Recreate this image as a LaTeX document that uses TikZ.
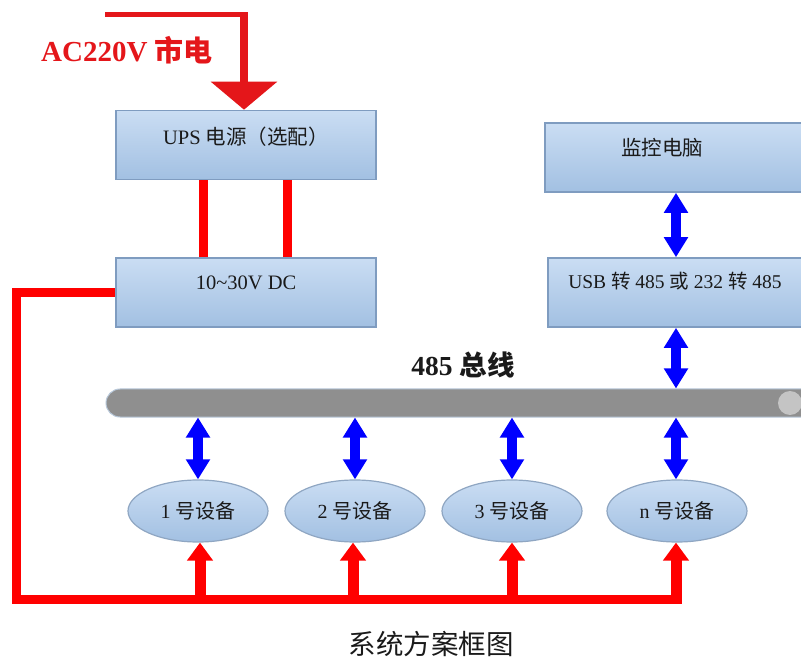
\documentclass[tikz,border=0pt]{standalone}
\usepackage{fontspec}
\setmainfont{Liberation Serif}
\newfontfamily\cjk{Noto Sans CJK SC}
\usetikzlibrary{arrows.meta,shapes.geometric}
\definecolor{boxtop}{HTML}{CADDF3}
\definecolor{boxbot}{HTML}{A2C0E2}
\definecolor{boxline}{HTML}{7F9CC0}
\definecolor{ellline}{HTML}{8FA6C2}
\definecolor{busgray}{HTML}{8F8F8F}
\definecolor{busline}{HTML}{B8C8DA}
\definecolor{capgray}{HTML}{C4C4C4}
\definecolor{pwred}{HTML}{FF0000}
\definecolor{acred}{HTML}{E4161A}
\definecolor{dblue}{HTML}{0000FF}
\definecolor{txt}{HTML}{1A1A1A}
\newcommand{\zh}[1]{{\cjk #1}}
\newcommand{\fs}[1]{\fontsize{#1}{#1}\selectfont}
\begin{document}
\begin{tikzpicture}[x=1pt,y=-1pt,
  box/.style={rectangle, draw=boxline, line width=1.6pt, top color=boxtop, bottom color=boxbot, minimum height=69pt, inner sep=0pt},
  boxtext/.style={text=txt, font=\fs{20.5}, inner sep=0pt},
  dev/.style={ellipse, draw=ellline, line width=1.2pt, top color=boxtop, bottom color=boxbot, minimum width=140pt, minimum height=62pt, inner sep=0pt, text=txt, font=\fs{20}},
  redline/.style={draw=pwred, line width=9pt, line join=miter},
  redarrow/.style={draw=pwred, line width=11pt, -{Triangle[width=25pt,length=18pt]}},
  bluearrow/.style={draw=dblue, line width=10pt, {Triangle[width=23pt,length=20pt]}-{Triangle[width=23pt,length=20pt]}},
  busbar/.style={rectangle, rounded corners=14pt, draw=busline, line width=1pt, fill=busgray, minimum height=28pt, inner sep=0pt}
]
\useasboundingbox (0,0) rectangle (801,660);
\clip (0,0) rectangle (801,660);

% boxes
\node[box, minimum width=260pt] (ups) at (246,145) {};
\node[boxtext] (upst) at ([yshift=8pt]ups.center) {UPS \zh{电源（选配）}};
\node[box, minimum width=260pt] (dc) at (246,292.5) {};
\node[boxtext] (dct) at ([yshift=9.5pt]dc.center) {10\textasciitilde30V DC};
\node[box, minimum width=280pt] (pc) at (685,157.5) {};
\node[boxtext] (pct) at (662,148) {\zh{监控电脑}};
\node[box, minimum width=280pt] (usb) at (688,292.5) {};
\node[boxtext, font=\fs{19.5}] (usbt) at (675,281) {USB \zh{转} 485 \zh{或} 232 \zh{转} 485};

% bus
\node[busbar, minimum width=710pt] (bus) at (461,403) {};
\node[ellipse, fill=capgray, minimum width=24pt, minimum height=24pt, inner sep=0pt] (buscap) at (790,403) {};
\node[text=txt, font=\fs{27.5}\bfseries, inner sep=0pt] (buslbl) at (463,365) {485 \zh{总线}};

% devices
\node[dev] (e1) at (198,511) {1 \zh{号设备}};
\node[dev] (e2) at (355,511) {2 \zh{号设备}};
\node[dev] (e3) at (512,511) {3 \zh{号设备}};
\node[dev] (e4) at (677,511) {n \zh{号设备}};

% AC input
\node[text=acred, font=\fs{29}\bfseries, inner sep=0pt] (aclbl) at (127,50) {AC220V \zh{市电}};
\coordinate (acstart) at (105,15);
\coordinate (accorner) at (248,15);
\draw[draw=acred, line width=5pt] (acstart) -- (accorner);
\draw[draw=acred, line width=8pt, -{Triangle[width=65pt,length=28pt]}] ([xshift=-4pt,yshift=2.5pt]accorner) -- ([xshift=-2pt]ups.north);

% UPS to DC
\draw[redline] ([xshift=-43pt]ups.south) -- ([xshift=-43pt]dc.north);
\draw[redline] ([xshift=41pt]ups.south) -- ([xshift=41pt]dc.north);

% power loop
\coordinate (lc) at (16,599);
\draw[redline] (dc.west) -| (lc) -- ([xshift=4pt]e4.south |- lc);
\draw[redarrow] ([xshift=-1pt]e4.south |- 0,603.5) -- ([xshift=-1pt]e4.south);
\draw[redarrow] ([xshift=2pt]e1.south |- lc) -- ([xshift=2pt]e1.south);
\draw[redarrow] ([xshift=-2pt]e2.south |- lc) -- ([xshift=-2pt]e2.south);
\draw[redarrow] (e3.south |- lc) -- (e3.south);

% data links
\coordinate (bx) at (676,0);
\draw[bluearrow] (pc.south -| bx) -- (usb.north -| bx);
\draw[bluearrow] (usb.south -| bx) -- (bus.north -| bx);
\draw[bluearrow] (bus.south -| e1.north) -- (e1.north);
\draw[bluearrow] (bus.south -| e2.north) -- (e2.north);
\draw[bluearrow] (bus.south -| e3.north) -- (e3.north);
\draw[bluearrow] (bus.south -| bx) -- (e4.north -| bx);

% caption
\node[text=txt, font=\fs{27.5}, inner sep=0pt] (cap) at (431,644) {\zh{系统方案框图}};
\end{tikzpicture}
\end{document}
